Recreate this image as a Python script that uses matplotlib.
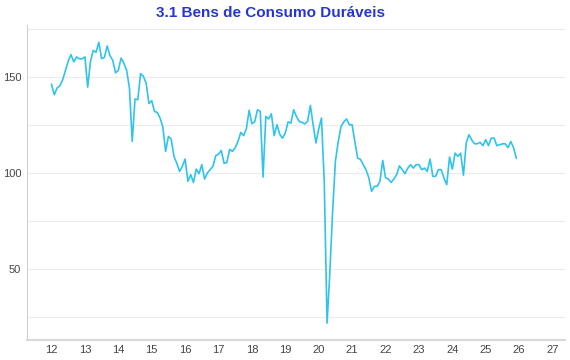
import matplotlib
matplotlib.use('Agg')
import matplotlib.pyplot as plt
import numpy as np

plt.rcParams['font.family'] = ['Liberation Sans', 'DejaVu Sans']

# monthly index, Jan 2012 .. Dec 2025
values = [
    146.0, 140.6, 144.1, 145.3, 148.4, 153.3, 158.0, 161.5, 157.7, 160.3, 159.3, 159.3,
    160.3, 144.6, 158.0, 163.7, 162.7, 167.9, 159.4, 160.0, 166.0, 161.0, 158.5, 152.0,
    153.3, 159.7, 157.0, 153.3, 144.1, 116.3, 138.4, 138.0, 151.6, 150.2, 146.7, 136.0,
    137.5, 131.9, 131.4, 128.5, 123.8, 111.1, 118.9, 117.5, 108.5, 105.0, 100.7, 103.3,
    107.1, 95.5, 99.0, 95.0, 101.9, 99.5, 104.2, 96.7, 99.9, 101.6, 103.3, 108.9,
    109.7, 111.6, 104.9, 105.3, 112.2, 111.1, 113.0, 116.3, 121.0, 119.3, 122.8, 132.5,
    125.5, 126.5, 132.8, 131.9, 97.7, 129.3, 128.0, 130.7, 119.3, 125.0, 120.0, 118.0,
    120.7, 126.5, 125.8, 132.8, 129.3, 126.7, 126.2, 125.4, 126.7, 135.0, 125.0, 115.5,
    122.8, 128.5, 95.0, 21.7, 48.0, 80.0, 106.0, 116.0, 124.0, 126.5, 128.0, 125.0,
    125.0, 116.0, 107.6, 107.0, 104.2, 101.6, 97.4, 90.3, 92.9, 92.9, 95.5, 106.4,
    97.4, 96.7, 95.0, 96.7, 99.0, 103.6, 101.6, 99.5, 102.4, 104.2, 102.4, 104.2,
    104.2, 101.6, 102.4, 100.7, 107.1, 98.1, 98.1, 101.6, 101.6, 97.2, 93.8, 108.2,
    101.9, 110.2, 108.5, 110.2, 98.7, 115.5, 119.8, 117.0, 115.1, 115.1, 115.8, 114.1,
    117.2, 114.1, 118.0, 118.0, 114.1, 114.6, 115.0, 115.1, 113.0, 116.3, 113.0, 107.6,
]
start_year = 2012
years = list(range(2012, 2028))
year_labels = ['12', '13', '14', '15', '16', '17', '18', '19',
               '20', '21', '22', '23', '24', '25', '26', '27']
y_ticks = [25, 50, 75, 100, 125, 150, 175]
y_labels = ['', '50', '', '100', '', '150', '']

x = start_year + np.arange(len(values)) / 12.0

fig = plt.figure(figsize=(5.7, 3.6), dpi=100)
ax = fig.add_axes([0.047, 0.056, 0.944, 0.875])

ax.plot(x, values, color='#30c3ec', linewidth=1.2)

ax.set_xlim(2011.26, 2027.37)
ax.set_ylim(13, 177)
ax.set_xticks(years)
ax.set_xticklabels(year_labels)
ax.set_yticks(y_ticks)
ax.set_yticklabels(y_labels)
ax.tick_params(axis='both', length=0, labelsize=8, colors='#444444')
ax.tick_params(axis='x', pad=4)
ax.tick_params(axis='y', pad=4)

ax.grid(axis='y', color='#ececec', linewidth=0.8)
ax.set_axisbelow(True)
for side in ['top', 'right']:
    ax.spines[side].set_visible(False)
ax.spines['left'].set_color('#d0d0d0')
ax.spines['left'].set_linewidth(0.8)
ax.spines['bottom'].set_color('#d8d8d8')
ax.spines['bottom'].set_linewidth(1.5)

fig.text(271 / 570, 0.965, '3.1 Bens de Consumo Duráveis', ha='center', va='center',
         fontsize=11, fontweight='bold', color='#2536d0')

fig.savefig('out.png', dpi=100)
